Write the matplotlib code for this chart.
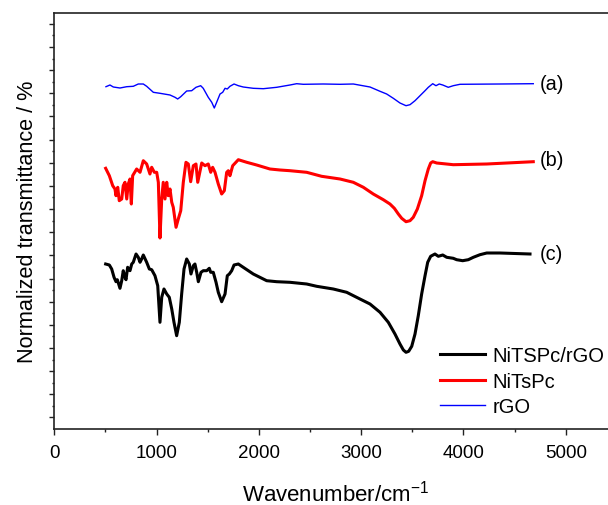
import matplotlib
matplotlib.use("Agg")
import matplotlib.pyplot as plt
from matplotlib.ticker import FixedLocator, MultipleLocator

plt.rcParams['font.family'] = ['Liberation Sans', 'DejaVu Sans']

# ---- data (wavenumber cm^-1, normalized transmittance, arbitrary offset units) ----
rgo_wn = [505, 544, 577, 642, 708, 772, 821, 870, 903, 968, 1033, 1131, 1180, 1206, 1236,
          1294, 1343, 1385, 1431, 1456, 1505, 1539, 1564, 1587, 1620, 1646, 1669, 1691, 1717,
          1757, 1799, 1847, 1945, 2043, 2174, 2304, 2369, 2434, 2629, 2793, 2923, 3086, 3184,
          3249, 3314, 3379, 3438, 3477, 3526, 3575, 3624, 3656, 3699, 3731, 3763, 3797, 3851,
          3900, 3966, 4357, 4682]
rgo_t = [342.3, 344, 342, 341, 342.3, 342.7, 345, 345, 342.7, 336.7, 335.7, 334, 331.7, 330, 332.3,
         338, 338.3, 341.7, 343.3, 340.7, 331.7, 326.7, 321, 326.7, 335, 336.7, 340.7, 340, 342.7,
         345, 343.3, 342, 340.7, 340.3, 341.7, 344, 345.3, 344.7, 345, 344.7, 345, 342, 337.7,
         335, 330.7, 326, 323.3, 324.3, 328.3, 333.3, 338.3, 341.7, 345.3, 343.3, 345, 344, 341.7,
         343.3, 344.7, 345, 345.3]

nitspc_wn = [502, 538, 571, 593, 603, 620, 635, 659, 674, 691, 708, 723, 740, 753, 766, 805, 838,
             870, 903, 935, 952, 978, 1001, 1017, 1033, 1050, 1065, 1082, 1099, 1114, 1131, 1148,
             1163, 1190, 1212, 1236, 1261, 1287, 1310, 1333, 1359, 1385, 1402, 1441, 1473, 1505,
             1529, 1548, 1571, 1603, 1636, 1662, 1685, 1701, 1717, 1744, 1799, 1881, 1978, 2108,
             2206, 2304, 2467, 2613, 2793, 2923, 3021, 3118, 3216, 3281, 3324, 3363, 3396, 3438,
             3477, 3509, 3549, 3591, 3624, 3656, 3679, 3699, 3738, 3900, 4227, 4682]
nitspc_t = [260.7, 253.3, 243.3, 240, 233.3, 241.7, 228.3, 230, 243.3, 246.7, 230, 245, 250, 225,
            253.3, 260, 256.7, 268.3, 265, 255, 261.7, 256.7, 256.7, 246.7, 191, 230, 246.7, 230,
            246.7, 233.3, 240, 226.7, 221.7, 201.7, 210, 218.3, 246.7, 266.7, 265, 247.3, 263.3,
            265, 246.7, 266, 263.3, 265, 256.7, 261.7, 256.7, 245, 235, 238.3, 256.7, 258.3, 253.3,
            263.3, 269.3, 266.7, 264, 260, 259, 258.3, 256.7, 252.7, 250, 246.7, 241.7, 235, 229.3,
            225, 220.7, 215, 210.7, 207.3, 208.3, 211.7, 220, 233.3, 248.3, 260, 266, 267.3, 266,
            264.3, 265, 267.3]

composite_wn = [502, 538, 561, 584, 603, 616, 642, 659, 674, 691, 701, 717, 740, 757, 772, 799,
                821, 838, 854, 870, 903, 929, 952, 984, 1011, 1033, 1050, 1072, 1099, 1124, 1148,
                1170, 1196, 1222, 1245, 1268, 1294, 1320, 1336, 1359, 1375, 1392, 1408, 1434, 1456,
                1490, 1515, 1529, 1554, 1581, 1603, 1636, 1669, 1691, 1711, 1734, 1757, 1799, 1847,
                1945, 2076, 2174, 2304, 2467, 2565, 2727, 2858, 2988, 3086, 3184, 3265, 3330, 3379,
                3412, 3438, 3464, 3494, 3526, 3558, 3591, 3624, 3650, 3679, 3721, 3754, 3797, 3836,
                3900, 3933, 3992, 4047, 4096, 4161, 4227, 4357, 4650]
composite_t = [165, 164, 160, 151.7, 147.3, 149.3, 140.7, 148.3, 158.3, 151.7, 149.3, 161.7, 158.3,
               165, 166.7, 175, 171.7, 166.7, 170, 174, 166.7, 160, 159.3, 153.3, 143.3, 106.7,
               131.7, 140, 135, 131.7, 120, 106.7, 93.3, 106.7, 135, 160, 170, 165, 155, 163.3,
               165, 156.7, 147.3, 156.7, 158.3, 158.3, 160.7, 156.7, 156.7, 146.7, 136.7, 127.3,
               135, 153.3, 155, 158.3, 164, 165, 161.7, 155, 148.3, 147.3, 146.7, 145, 142.7, 140,
               136.7, 130, 125, 116.7, 106.7, 95, 85, 79, 76.7, 77.7, 82.7, 95, 113.3, 135, 153.3,
               166.7, 172.7, 175, 172.7, 174, 171.7, 170.7, 169.3, 168.3, 169.3, 171.7, 174.3, 176,
               176, 175]

series_names = ['NiTSPc/rGO', 'NiTsPc', 'rGO']
curve_tags = ['(a)', '(b)', '(c)']
x_ticks = [0, 1000, 2000, 3000, 4000, 5000]

# ---- figure ----
W, H = 608, 506
fig = plt.figure(figsize=(W / 100, H / 100), dpi=100)
ax = fig.add_axes([54.3 / W, 76 / H, 5500 * 0.1023 / W, 416 / H])

ax.plot(composite_wn, composite_t, color='black', lw=2.2, label=series_names[0],
        solid_joinstyle='round')
ax.plot(nitspc_wn, nitspc_t, color='#ff0000', lw=2.2, label=series_names[1],
        solid_joinstyle='round')
ax.plot(rgo_wn, rgo_t, color='#0000ff', lw=1.0, label=series_names[2])

ax.set_xlim(0, 5500)
ax.set_ylim(0, 416)

ax.set_xticks(x_ticks)
ax.xaxis.set_minor_locator(MultipleLocator(500))
ax.yaxis.set_major_locator(FixedLocator([11.6 + 23.15 * k for k in range(18)]))
ax.yaxis.set_minor_locator(FixedLocator([23.2 + 23.15 * k for k in range(17)]))
ax.set_yticklabels([])

ax.tick_params(axis='x', which='major', direction='out', length=4.3, width=1.0,
               labelsize=13.5, pad=6.5, color='#222222')
ax.tick_params(axis='x', which='minor', direction='out', length=2.5, width=1.0, color='#222222')
ax.tick_params(axis='y', which='major', direction='out', length=3.4, width=1.0, color='#222222')
ax.tick_params(axis='y', which='minor', direction='out', length=1.8, width=1.0, color='#222222')

for s in ['left', 'top', 'bottom']:
    ax.spines[s].set_linewidth(1.2)
    ax.spines[s].set_color('#222222')
ax.spines['right'].set_visible(False)

ax.set_xlabel('Wavenumber/cm$^{\\mathregular{-1}}$', fontsize=16, labelpad=13.5)
ax.set_ylabel('Normalized transmittance / %', fontsize=15.6, labelpad=5)

# curve tags
tag_y = [345, 270, 175]
for tag, yv in zip(curve_tags, tag_y):
    ax.text(4748, yv, tag, fontsize=14.3, va='center', ha='left')

leg = ax.legend(loc='upper left', bbox_to_anchor=(440 / W, 1 - 347 / H),
                bbox_transform=fig.transFigure, frameon=False, fontsize=14.5,
                handlelength=2.24, handletextpad=0.35, labelspacing=0.33,
                borderpad=0, borderaxespad=0)

fig.savefig('out.png', dpi=100)
